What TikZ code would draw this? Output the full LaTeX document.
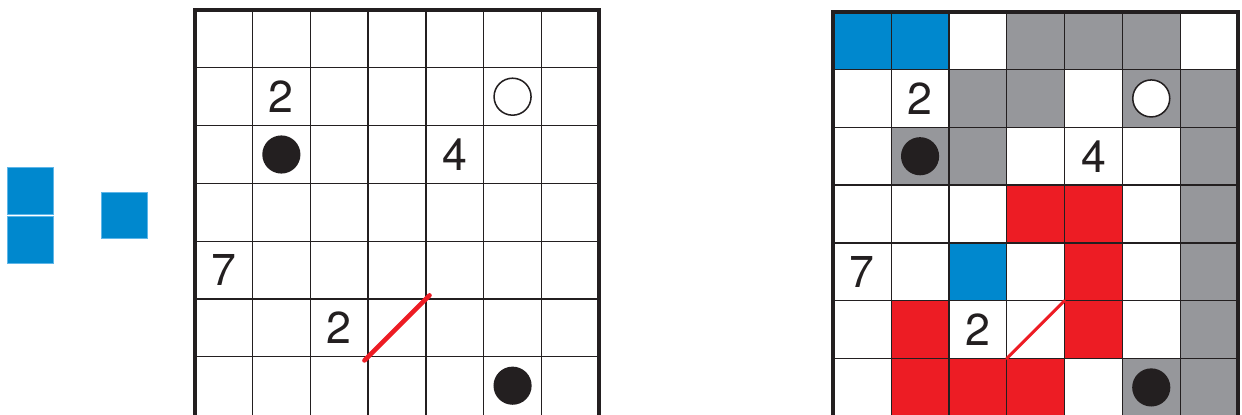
\documentclass[tikz,border=0pt]{standalone}
\usepackage{fontspec}
\setmainfont{TeX Gyre Heros}
\definecolor{cellblue}{RGB}{0,136,206}
\definecolor{edgeblue}{RGB}{95,182,232}
\definecolor{cellgray}{RGB}{150,151,155}
\definecolor{cellred}{RGB}{237,28,36}
\definecolor{inkblack}{RGB}{35,31,32}
\begin{document}
\begin{tikzpicture}[
        gridline/.style={draw=inkblack, line width=0.65pt},
        frameline/.style={draw=inkblack, line width=2pt},
        clue/.style={font=\fontsize{22}{22}\selectfont, text=inkblack, inner sep=0pt},
        blackdot/.style={circle, fill=inkblack, minimum size=0.66cm, inner sep=0pt},
        whitedot/.style={circle, draw=inkblack, fill=white, line width=0.75pt, minimum size=0.64cm, inner sep=0pt},
        piece/.style={fill=cellblue, draw=edgeblue, line width=0.4pt},
        wall/.style={draw=cellred, line cap=round}
    ]
    \useasboundingbox (-3.368,0) rectangle (18.12,7.173);
    % loose pieces
    \path[piece] (-3.247,3.465) rectangle (-2.446,4.279);
    \path[piece] (-3.247,2.618) rectangle (-2.446,3.436);
    \path[piece] (-1.616,3.043) rectangle (-0.813,3.851);
    % puzzle
    \foreach \k in {1,...,6} {
        \draw[gridline] (\k,0) -- (\k,7);
        \draw[gridline] (0,\k) -- (7,\k);
    }
    \draw[frameline] (0,0) -- (0,7) -- (7,7) -- (7,0);
    \node[clue] (twoA) at (1.5,5.5) {2};
    \node[whitedot] (ring) at (5.5,5.5) {};
    \node[blackdot] (dotA) at (1.5,4.5) {};
    \node[clue] (four) at (4.5,4.5) {4};
    \node[clue] (seven) at (0.5,2.5) {7};
    \node[clue] (twoB) at (2.5,1.5) {2};
    \node[blackdot] (dotB) at (5.5,0.5) {};
    \coordinate (wallA) at (3,1);
    \coordinate (wallB) at (4,2);
    \draw[wall, line width=2.2pt, shorten <=-0.09cm, shorten >=-0.09cm] (wallA) -- (wallB);
    % solution
    \begin{scope}[shift={(11.05,-0.03)}]
        \foreach \col/\row in {3/0,4/0,5/0,2/1,3/1,5/1,6/1,1/2,2/2,6/2,6/3,6/4,6/5,5/6,6/6}
            \fill[cellgray] (\col,6-\row) rectangle ++(1,1);
        \foreach \col/\row in {0/0,1/0,2/4}
            \fill[cellblue] (\col,6-\row) rectangle ++(1,1);
        \foreach \col/\row in {3/3,4/3,4/4,1/5,4/5,1/6,2/6,3/6}
            \fill[cellred] (\col,6-\row) rectangle ++(1,1);
        \foreach \k in {1,...,6} {
            \draw[gridline] (\k,0) -- (\k,7);
            \draw[gridline] (0,\k) -- (7,\k);
        }
        \draw[frameline] (0,0) -- (0,7) -- (7,7) -- (7,0);
        \node[clue] (twoAR) at (1.5,5.5) {2};
        \node[whitedot] (ringR) at (5.5,5.5) {};
        \node[blackdot] (dotAR) at (1.5,4.5) {};
        \node[clue] (fourR) at (4.5,4.5) {4};
        \node[clue] (sevenR) at (0.5,2.5) {7};
        \node[clue] (twoBR) at (2.5,1.5) {2};
        \node[blackdot] (dotBR) at (5.5,0.5) {};
        \coordinate (wallAR) at (3,1);
        \coordinate (wallBR) at (4,2);
        \draw[wall, line width=1.5pt] (wallAR) -- (wallBR);
    \end{scope}
\end{tikzpicture}
\end{document}
